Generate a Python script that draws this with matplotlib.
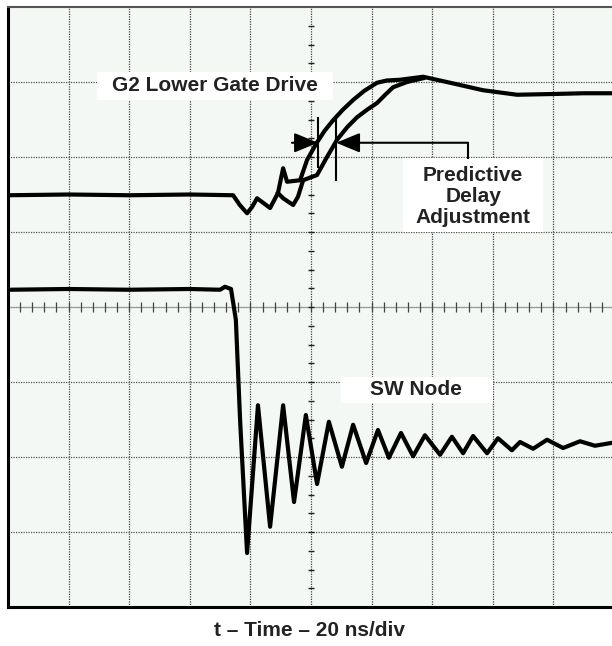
import matplotlib.pyplot as plt
from matplotlib.patches import Rectangle
import numpy as np

plt.rcParams['font.family'] = ['Liberation Sans', 'DejaVu Sans']

# time in ns (20 ns/div, 10 div), level in scope divisions (0..8)
g2_common_t = [0, 20, 40, 60, 74.3, 76.5, 78.9, 80.5, 82.2, 84.5, 86.5, 89.1]
g2_common_v = [5.49, 5.50, 5.49, 5.50, 5.49, 5.36, 5.25, 5.33, 5.45, 5.38, 5.32, 5.52]

g2_a_t = [90.8, 92.1, 96.4, 98.7, 101.9, 104.5, 107.3, 110.5, 113.9, 117.5,
          121.8, 125.0, 129.4, 137.0, 145.9, 156.8, 168.0, 180.0, 190.0, 199.5]
g2_a_v = [5.85, 5.67, 5.69, 5.96, 6.19, 6.35, 6.49, 6.63, 6.76, 6.88,
          6.99, 7.02, 7.03, 7.07, 6.99, 6.89, 6.83, 6.84, 6.85, 6.85]

g2_b_t = [90.8, 94.1, 95.7, 97.4, 102.0, 105.0, 108.6, 112.0, 115.2, 118.5,
          121.8, 124.5, 127.1, 131.7, 137.0]
g2_b_v = [5.45, 5.36, 5.47, 5.69, 5.76, 5.98, 6.23, 6.40, 6.53, 6.63,
          6.72, 6.83, 6.93, 7.00, 7.05]

sw_t = [0, 20, 40, 60, 70.0, 71.6, 73.6, 75.2, 76.6, 78.9,
        82.5, 86.5, 90.8, 94.4, 98.3, 102.0, 105.9, 110.2, 113.9, 118.2,
        122.1, 125.7, 129.7, 133.7, 137.6, 142.6, 146.5, 150.2, 153.5, 158.1,
        161.7, 166.3, 169.0, 173.3, 177.9, 183.2, 188.8, 193.7, 199.5]
sw_v = [4.23, 4.24, 4.23, 4.24, 4.23, 4.27, 4.24, 3.83, 2.49, 0.72,
        2.69, 1.07, 2.69, 1.40, 2.56, 1.64, 2.47, 1.87, 2.43, 1.92,
        2.36, 1.99, 2.32, 2.01, 2.29, 2.03, 2.27, 2.05, 2.28, 2.05,
        2.25, 2.09, 2.20, 2.11, 2.23, 2.12, 2.21, 2.15, 2.19]

fig = plt.figure(figsize=(6.12, 6.46), dpi=100)
ax = fig.add_axes([8 / 612, 39 / 646, 606 / 612, 600 / 646])
ax.set_facecolor('#f4f8f4')
ax.set_xlim(0, 200)
ax.set_ylim(0, 8)

# graticule
for xv in np.arange(20, 200, 20):
    ax.axvline(xv, color='#444444', lw=0.9, ls=(0, (1, 1)), zorder=1)
for yv in range(1, 8):
    ax.axhline(yv, color='#555555', lw=0.9, ls=(0, (1, 1)), zorder=1)
ax.axhline(4, color='#999999', lw=0.8, zorder=1)
ax.plot(np.arange(4, 200, 4), np.full(49, 4.0), ls='none', marker='|',
        ms=7, mew=0.9, color='#444444', zorder=1)
ax.plot(np.full(31, 100.0), np.arange(0.25, 8, 0.25), ls='none', marker='_',
        ms=5, mew=1.0, color='#222222', zorder=1)

# traces
kw = dict(color='black', lw=3.0, solid_joinstyle='round', zorder=3)
ax.plot(g2_common_t + g2_a_t, g2_common_v + g2_a_v, **kw)
ax.plot(g2_common_t[-1:] + g2_b_t, g2_common_v[-1:] + g2_b_v, **kw)
ax.plot(sw_t, sw_v, **kw)

# labels
ax.add_patch(Rectangle((29.4, 6.76), 77.9, 0.37, fc='white', ec='none', zorder=4))
ax.text(68.3, 6.95, 'G2 Lower Gate Drive', ha='center', va='center',
        fontsize=15, fontweight='bold', color='#222222', zorder=5)

ax.add_patch(Rectangle((130.4, 5.0), 46.2, 0.99, fc='white', ec='none', zorder=4))
ax.text(153.5, 5.47, 'Predictive\nDelay\nAdjustment', ha='center', va='center',
        fontsize=15, fontweight='bold', color='#222222', linespacing=1.12, zorder=5)

ax.add_patch(Rectangle((109.9, 2.72), 50.2, 0.35, fc='white', ec='none', zorder=4))
ax.text(134.7, 2.90, 'SW Node', ha='center', va='center',
        fontsize=15, fontweight='bold', color='#222222', zorder=5)

# delay markers
ax.plot([102.3, 102.3], [5.87, 6.52], color='black', lw=1.5, zorder=5)
ax.plot([108.3, 108.3], [5.69, 6.49], color='black', lw=1.5, zorder=5)
arr = dict(arrowstyle='-|>,head_length=1.45,head_width=0.6', lw=1.5,
           color='black', shrinkA=0, shrinkB=0)
ax.annotate('', xy=(102.3, 6.19), xytext=(93.7, 6.19), arrowprops=arr, zorder=5)
ax.annotate('', xy=(108.3, 6.19), xytext=(151.8, 6.19), arrowprops=arr, zorder=5)
ax.plot([151.8, 151.8], [6.19, 5.99], color='black', lw=1.5, zorder=5)

ax.set_xticks([])
ax.set_yticks([])
for s in ['left', 'bottom']:
    ax.spines[s].set_linewidth(2.2)
    ax.spines[s].set_color('black')
ax.spines['top'].set_linewidth(1.5)
ax.spines['top'].set_color('#555555')
ax.spines['right'].set_visible(False)

fig.text(310 / 612, 1 - 630 / 646, 't \u2013 Time \u2013 20 ns/div', ha='center',
         va='center', fontsize=15, fontweight='bold', color='#222222')

fig.savefig('out.png', dpi=100)
